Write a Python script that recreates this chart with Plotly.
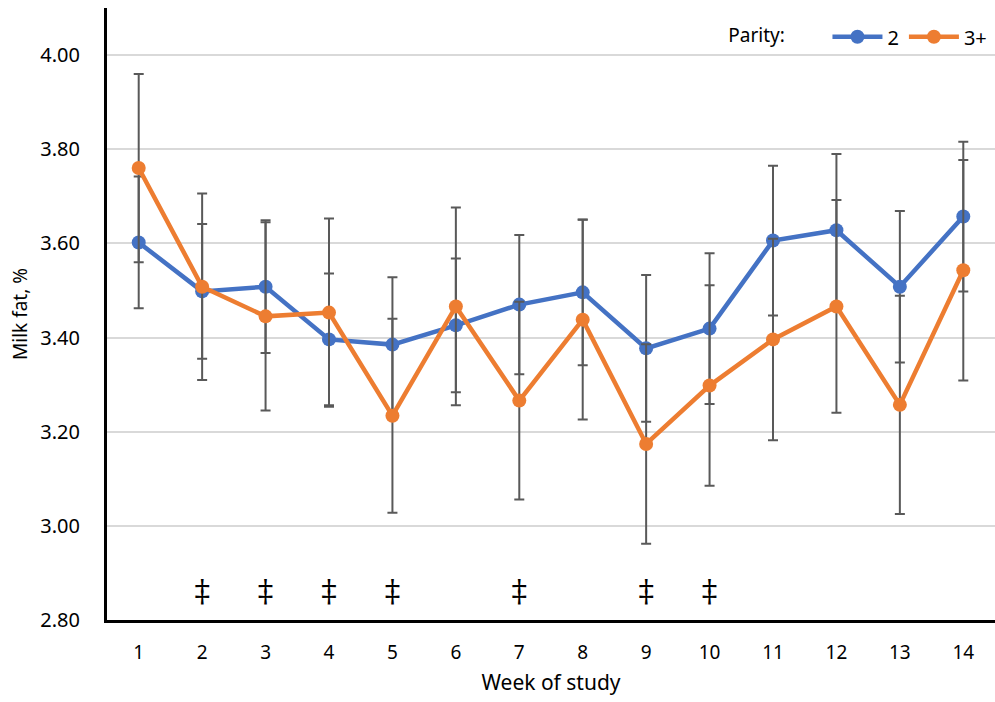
import plotly.graph_objects as go

weeks = list(range(1, 15))
parity2 = [3.602, 3.498, 3.508, 3.396, 3.385, 3.426, 3.470, 3.496, 3.377, 3.419, 3.606, 3.628, 3.508, 3.657]
parity2_err = [0.140, 0.143, 0.141, 0.140, 0.143, 0.142, 0.148, 0.155, 0.156, 0.160, 0.159, 0.162, 0.161, 0.159]
parity3 = [3.760, 3.508, 3.445, 3.453, 3.234, 3.466, 3.266, 3.438, 3.174, 3.298, 3.396, 3.466, 3.257, 3.543]
parity3_err = [0.200, 0.198, 0.200, 0.200, 0.206, 0.210, 0.210, 0.212, 0.212, 0.213, 0.214, 0.226, 0.232, 0.234]
sig_weeks = [2, 3, 4, 5, 7, 9, 10]
sig_mark = "‡"
sig_level = 2.855
y_ticks = [2.8, 3.0, 3.2, 3.4, 3.6, 3.8, 4.0]

FONT = "Noto Sans"
BLUE = "#4472C4"
ORANGE = "#ED7D31"
ERR = "#595959"

fig = go.Figure()
for name, vals, errs, col in [("2", parity2, parity2_err, BLUE), ("3+", parity3, parity3_err, ORANGE)]:
    fig.add_trace(go.Scatter(
        x=weeks, y=vals, name=name, mode="lines+markers",
        line=dict(color=col, width=4.5),
        marker=dict(color=col, size=14),
        error_y=dict(type="data", array=errs, visible=True, color=ERR, thickness=2, width=5),
        hoverinfo="skip",
    ))

fig.add_trace(go.Scatter(
    x=sig_weeks, y=[sig_level] * len(sig_weeks), mode="text",
    text=[sig_mark] * len(sig_weeks), textposition="middle center",
    textfont=dict(family="DejaVu Serif", size=31, color="black"),
    showlegend=False, hoverinfo="skip",
))

fig.update_layout(
    width=995, height=702,
    margin=dict(l=107, r=0, t=8, b=82),
    paper_bgcolor="white", plot_bgcolor="white",
    font=dict(family=FONT, color="black", size=19),
    legend=dict(
        orientation="h", x=0.997, xanchor="right", y=0.953, yanchor="middle",
        title=dict(text="Parity:" + "\u00a0" * 7, side="left", font=dict(size=19)),
        font=dict(size=20), bgcolor="rgba(0,0,0,0)",
        itemwidth=50, tracegroupgap=0,
    ),
    xaxis=dict(
        range=[0.5, 14.5], tickmode="array", tickvals=weeks, ticktext=[str(w) for w in weeks],
        showgrid=False, zeroline=False, showline=True, linecolor="black", linewidth=3,
        ticks="", ticklabelstandoff=13,
        tickfont=dict(size=19),
        title=dict(text="Week of study", font=dict(size=21), standoff=12),
    ),
    yaxis=dict(
        range=[2.8, 4.1], tickmode="array", tickvals=y_ticks, ticktext=[f"{v:.2f}" for v in y_ticks],
        showgrid=True, gridcolor="#d9d9d9", gridwidth=1.5, zeroline=False,
        showline=True, linecolor="black", linewidth=3, ticks="", ticklabelstandoff=20,
        tickfont=dict(size=20),
        title=dict(text="Milk fat, %", font=dict(size=19), standoff=8),
    ),
)

fig.write_html("out.html")
